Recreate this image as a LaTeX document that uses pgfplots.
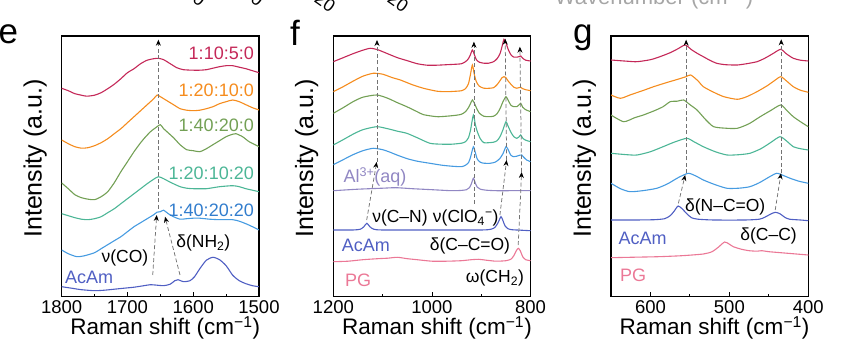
\documentclass[border=0pt]{standalone}
\usepackage{pgfplots}
\pgfplotsset{compat=1.18}
\usepackage{fontspec}
\setmainfont{Liberation Sans}
\usetikzlibrary{arrows.meta}
\definecolor{cR}{RGB}{196,40,88}
\definecolor{cO}{RGB}{245,140,30}
\definecolor{cG}{RGB}{115,160,85}
\definecolor{cT}{RGB}{76,182,150}
\definecolor{cB}{RGB}{70,155,225}
\definecolor{cBl}{RGB}{50,125,205}
\definecolor{cA}{RGB}{80,95,195}
\definecolor{cL}{RGB}{145,135,195}
\definecolor{cP}{RGB}{235,120,150}
\tikzset{
  darr/.style={dash pattern=on 4pt off 2.5pt, line width=0.75pt, black!55, -{Stealth[length=6pt,width=5pt,color=black,fill=black]}},
  lab/.style={inner sep=0pt, font=\fontsize{18}{20}\selectfont},
  slab/.style={inner sep=0pt, font=\fontsize{17.5}{20}\selectfont, black},
}
\pgfplotsset{
  panel/.style={scale only axis, width=197.3pt, height=260.7pt, anchor=south west,
    ymin=0, ymax=260.7, ytick=\empty, x dir=reverse,
    tick align=inside, xtick pos=bottom, major tick length=5pt, minor tick length=3pt,
    axis line style={line width=1.1pt}, every tick/.style={black, line width=0.9pt},
    clip mode=individual,
    tick label style={font=\fontsize{18.5}{20}\selectfont},
    /pgf/number format/assume math mode=true, /pgf/number format/1000 sep={},
    xlabel={Raman shift (cm\textsuperscript{−1})}, ylabel={Intensity (a.u.)},
    xlabel style={font=\fontsize{22.5}{24}\selectfont, at={(axis description cs:0.525,0)}, anchor=base, yshift=-38.3pt},
    ylabel style={font=\fontsize{25}{27}\selectfont, at={(axis description cs:-0.135,0.53)}, anchor=center},
    every axis plot/.append style={line width=1.1pt, smooth, tension=0.4},
  }
}
\begin{document}
\begin{tikzpicture}
\useasboundingbox (0,0) rectangle (851pt,355pt);
% cut-off fragments of the panel above
\begin{scope}[font=\fontsize{18}{20}\selectfont]
\node[rotate=-35, anchor=base east, inner sep=0pt] at (123pt,353pt) {0};
\node[rotate=-35, anchor=base east, inner sep=0pt] at (200pt,348pt) {:0};
\node[rotate=-35, anchor=base east, inner sep=0pt] at (258pt,348pt) {:0};
\node[rotate=-35, anchor=base east, inner sep=0pt] at (330pt,342pt) {:20};
\node[rotate=-35, anchor=base east, inner sep=0pt] at (403pt,342pt) {:20};
\end{scope}
\node[anchor=base, inner sep=0pt, black!35, font=\fontsize{22}{24}\selectfont] at (654pt,350pt) {Wavenumber (cm\textsuperscript{−1})};
% panel letters
\node[anchor=base west, inner sep=0pt, font=\fontsize{35}{35}\selectfont] at (-1.5pt,311.5pt) {e};
\node[anchor=base west, inner sep=0pt, font=\fontsize{35}{35}\selectfont] at (290pt,309pt) {f};
\node[anchor=base west, inner sep=0pt, font=\fontsize{35}{35}\selectfont] at (573pt,311.5pt) {g};

% ================= panel e =================
\begin{axis}[panel, at={(61.7pt,58.3pt)}, xmin=1500, xmax=1800,
  xtick={1500,1600,1700,1800}, minor xtick={1550,1650,1750}]
\addplot[cR] coordinates {(1800,208.4)(1790,206)(1780,203)(1770,201.5)(1762,200.5)(1750,201.5)(1740,204)(1730,208)(1720,212.5)(1710,218)(1700,224)(1690,228)(1680,233)(1670,236.5)(1660,238)(1653,238.4)(1645,237)(1635,233)(1625,229)(1615,227)(1600,226.5)(1590,226.5)(1580,227)(1570,228.5)(1560,230)(1550,231)(1540,231)(1530,229.5)(1520,228)(1510,226)(1500,224)};
\addplot[cO] coordinates {(1800,156.7)(1790,153)(1780,150)(1770,148.5)(1760,149)(1750,151)(1740,154)(1730,158)(1720,163)(1710,168)(1700,174)(1690,180)(1680,186)(1670,192)(1660,198)(1655,201.7)(1650,200)(1640,196)(1630,192)(1620,188)(1610,186.5)(1600,186)(1590,186.5)(1580,188)(1570,190)(1560,193)(1550,195)(1540,196.7)(1530,195)(1520,192)(1510,189)(1500,186.7)};
\addplot[cG] coordinates {(1800,113.7)(1790,108)(1780,102)(1770,99)(1760,97.5)(1750,97)(1740,100)(1730,105)(1720,114)(1710,125)(1700,135)(1690,145)(1680,154)(1675,158)(1665,165)(1655,170)(1650,172)(1645,168)(1640,165)(1630,159)(1620,152)(1610,147)(1600,146)(1590,145)(1580,148)(1570,152)(1560,156)(1550,160)(1540,162.5)(1535,163)(1525,160)(1515,155)(1500,150)};
\addplot[cT] coordinates {(1800,83)(1790,81)(1780,79)(1770,77.5)(1760,77)(1750,78)(1740,80)(1730,84)(1720,88)(1710,93)(1700,98)(1690,103)(1680,108)(1670,113)(1660,117.5)(1653,120)(1645,118)(1635,114.5)(1620,110)(1610,108.5)(1600,108)(1580,108)(1560,110)(1540,111)(1530,110)(1520,108)(1510,106.5)(1500,105)};
\addplot[cB] coordinates {(1800,46.7)(1790,43)(1777,40)(1765,41)(1750,44)(1740,48)(1730,52)(1720,56)(1710,60)(1700,65)(1690,70)(1680,74)(1670,78)(1660,82)(1655,84.5)(1650,85)(1645,86.5)(1638,83)(1630,80)(1620,77.5)(1610,78)(1600,78.5)(1590,78.5)(1575,77.5)(1560,77)(1540,77)(1530,75.5)(1520,73)(1510,70)(1500,66.7)};
\addplot[cA] coordinates {(1800,10)(1785,8.5)(1770,7)(1750,6)(1735,6.5)(1720,7.5)(1705,8.5)(1690,9.5)(1675,11)(1665,12)(1655,11.5)(1645,11)(1635,12.5)(1628,16)(1623,17)(1615,15)(1605,16)(1598,20)(1590,28)(1580,36.5)(1570,39.4)(1560,37)(1550,31)(1540,21.5)(1530,16)(1520,13)(1510,11)(1500,10)};
\draw[darr] (axis cs:1653,88) -- (axis cs:1653,257);
\draw[darr] (axis cs:1661.6,21.7) -- (axis cs:1655.6,81.7);
\draw[darr] (axis cs:1620.1,21.7) -- (axis cs:1642.9,80);
\node[lab, cR, anchor=east] at (axis cs:1507.6,243.4) {1:10:5:0};
\node[lab, cO, anchor=east] at (axis cs:1507.6,206.7) {1:20:10:0};
\node[lab, cG, anchor=east] at (axis cs:1507.6,171.5) {1:40:20:0};
\node[lab, cT, anchor=east] at (axis cs:1507.6,123.7) {1:20:10:20};
\node[lab, cBl, anchor=east] at (axis cs:1507.6,86.4) {1:40:20:20};
\node[slab] at (axis cs:1584.7,53.4) {δ(NH\textsubscript{2})};
\node[slab] at (axis cs:1703.8,38.4) {ν(CO)};
\node[lab, cA, anchor=west] at (axis cs:1795,19.2) {AcAm};
\end{axis}

% ================= panel f =================
\begin{axis}[panel, at={(333.3pt,58.3pt)}, xmin=800, xmax=1200,
  xtick={800,1000,1200}, minor xtick={900,1100}]
\addplot[cR] coordinates {(1200,235)(1180,239)(1160,243)(1140,246.5)(1125,248.4)(1110,247)(1090,243)(1070,239)(1050,236)(1030,233)(1010,231.5)(990,231.5)(970,232)(950,232.5)(940,233)(932,235)(926,238)(922,242)(918,246.7)(914,242)(910,237)(904,234.5)(895,233.5)(885,233.5)(875,235)(868,238)(862,243)(858,250)(854,257.4)(850,254)(846,248)(840,242)(834,239.5)(828,239.5)(824,240)(820,240.7)(816,238.5)(810,236.5)(800,235.7)};
\addplot[cO] coordinates {(1200,205)(1180,210)(1160,215.5)(1140,220.5)(1119,223.4)(1100,222.5)(1080,219)(1064,216.7)(1040,212)(1017,208.4)(990,205.5)(970,205)(950,205.5)(940,206)(932,208)(926,213)(922,222)(918,231.7)(914,222)(910,215)(904,210.5)(895,208.5)(885,208.4)(875,209)(868,212)(862,216)(858,219)(854,220)(850,219)(846,216)(840,212.5)(834,209.5)(828,208.5)(824,209)(820,209.4)(816,208)(810,207)(800,206)};
\addplot[cG] coordinates {(1200,183.4)(1180,189)(1160,195)(1140,199.5)(1112,201.7)(1090,198.5)(1070,194)(1051,190)(1030,185)(1017,182)(990,180)(970,180.5)(950,181.5)(940,182.5)(932,185)(926,189)(922,193)(918,196.7)(914,193.5)(910,189)(904,183.5)(895,180.5)(885,180)(875,180.5)(868,183)(862,188)(856,195)(850,200)(846,197)(840,191.5)(834,190)(828,190)(824,191.5)(820,193.4)(816,189.5)(810,187)(800,185)};
\addplot[cT] coordinates {(1200,151.7)(1180,157)(1160,162.5)(1140,167)(1112,170)(1090,168)(1070,165.5)(1051,163.4)(1030,159)(1004,153.4)(980,152.5)(960,152.5)(940,153.5)(932,155)(926,159)(922,166)(916,181.7)(912,172)(908,165)(902,158)(895,154)(885,154)(875,154.5)(868,156)(862,160)(856,167)(850,175)(846,171)(840,164.5)(834,160)(828,158.4)(824,159.5)(820,161.7)(816,158.5)(810,156.5)(800,155)};
\addplot[cB] coordinates {(1200,132)(1180,137)(1160,142)(1140,146)(1119,148.4)(1100,147)(1085,144.5)(1071,141.7)(1050,138)(1030,135.5)(1004,133.4)(980,131.5)(960,130.5)(940,130)(932,131.5)(926,134)(922,139)(916,150)(912,144)(908,137.5)(902,134.5)(895,133.5)(882,133.4)(872,134.5)(866,136.5)(862,138.4)(856,143)(850,150)(846,147.5)(840,141.5)(834,140)(828,140.5)(822,141.5)(818,141.7)(814,139.5)(808,136.7)(800,135)};
\addplot[cL] coordinates {(1200,106)(1150,107.5)(1100,108.5)(1073,109)(1040,108)(1000,107)(960,106)(940,106.3)(930,107)(924,109)(920,113)(916,118.5)(912,113.5)(908,109.5)(902,107.5)(890,106.5)(870,106)(840,106)(800,106)};
\addplot[cA] coordinates {(1200,66.7)(1160,66.7)(1145,67.5)(1138,70)(1132,73.4)(1126,70)(1118,67.5)(1100,66.7)(1000,66.7)(900,66.7)(880,67.5)(872,69.5)(866,74)(860,80)(856,76)(852,71)(846,68)(838,67)(820,66.5)(800,66)};
\addplot[cP] coordinates {(1200,35)(1170,35.5)(1140,37)(1110,38)(1090,38.5)(1070,39.4)(1050,38)(1030,37)(1000,35.5)(970,35.5)(940,36)(920,37)(905,37.4)(890,36.5)(870,35.5)(850,36)(840,37.5)(834,41)(829,46)(825,48.4)(821,46)(816,40)(810,37)(800,36)};
\draw[darr] (axis cs:1132.3,76.7) -- (axis cs:1112,134.7);
\draw[darr] (axis cs:1111.4,134.7) -- (axis cs:1111.4,256.7);
\draw[darr] (axis cs:914.9,93) -- (axis cs:914.9,255);
\draw[darr] (axis cs:862.2,81.7) -- (axis cs:848.6,136.7);
\draw[darr] (axis cs:848.6,136.7) -- (axis cs:851.5,258);
\draw[darr] (axis cs:825.1,51.7) -- (axis cs:818.2,124.7);
\draw[darr] (axis cs:818.2,124.7) -- (axis cs:821.7,250);
\node[lab, cL, anchor=west] at (axis cs:1179.7,120) {Al\textsuperscript{3+}(aq)};
\node[slab] at (axis cs:1064.8,78.4) {ν(C–N)};
\node[slab] at (axis cs:931.5,78.4) {ν(ClO\textsubscript{4}\textsuperscript{−})};
\node[lab, cA, anchor=west] at (axis cs:1183,50.9) {AcAm};
\node[slab] at (axis cs:923,50.9) {δ(C–C=O)};
\node[lab, cP, anchor=west] at (axis cs:1176.3,16.7) {PG};
\node[slab] at (axis cs:872.3,18.4) {ω(CH\textsubscript{2})};
\end{axis}

% ================= panel g =================
\begin{axis}[panel, at={(611pt,58.3pt)}, xmin=400, xmax=650,
  xtick={400,500,600}, minor xtick={450,550}]
\addplot[cR] coordinates {(650,236.7)(630,235.5)(617,235)(600,237)(588,240)(575,244)(565,248)(556,251.7)(548,247)(540,243)(533,240)(525,236.5)(516,233.4)(505,232)(490,231.7)(478,233)(465,235)(455,238.5)(445,243)(435,247.4)(428,243)(419,238.4)(410,236.5)(400,235.7)};
\addplot[cO] coordinates {(650,201.7)(638,198.4)(625,202)(610,206)(596,210)(580,214)(565,217.5)(555,220)(549,221.7)(540,216)(533,210)(520,204.5)(507,200)(490,197.4)(478,200)(465,205)(452,211)(443,216)(435,220)(428,216)(419,210)(410,206.5)(400,204.4)};
\addplot[cG] coordinates {(650,181.7)(634,175)(620,179)(609,181.7)(595,186)(584,190)(575,195)(566,195.5)(558,196.7)(550,192)(541,186.7)(530,177)(520,170)(505,168.5)(490,168.4)(475,173)(461,180)(448,186)(435,191.7)(427,186)(419,180)(410,175)(400,170)};
\addplot[cT] coordinates {(650,143.4)(630,142)(617,141.7)(600,145)(584,150)(570,154.5)(554,158.4)(545,155)(533,150)(518,145)(503,141.7)(488,142)(474,143.4)(460,148)(448,154)(436,160)(428,156)(419,150)(410,148)(400,146.7)};
\addplot[cB] coordinates {(650,113.4)(638,108)(626,105)(610,106)(592,108.4)(578,113)(565,119)(552,123.4)(542,120.5)(533,116.7)(518,112)(503,108.4)(488,108.5)(474,110)(462,114)(450,119.5)(440,123.4)(431,121)(423,118.4)(412,115.5)(400,113.4)};
\addplot[cA] coordinates {(650,76.7)(620,76.7)(595,77)(582,78)(575,81)(570,85.5)(565,90.7)(560,88)(554,83)(548,79)(540,77.5)(520,76.7)(480,76.7)(462,77.5)(455,79.5)(448,82.5)(442,84.4)(436,83)(430,79.5)(424,77.5)(410,76.7)(400,76)};
\addplot[cP] coordinates {(650,39)(620,39.5)(590,40)(560,41)(533,42.7)(522,45)(514,49.5)(506,54.7)(500,52.5)(495,50)(485,47.5)(475,46)(465,45.5)(459,46)(450,45)(435,44)(420,43)(400,41.7)};
\draw[darr] (axis cs:564.6,93.4) -- (axis cs:556,121.7);
\draw[darr] (axis cs:554.8,123.4) -- (axis cs:554.8,257);
\draw[darr] (axis cs:441.9,86.7) -- (axis cs:434.6,123.4);
\draw[darr] (axis cs:434.3,123.4) -- (axis cs:434.3,257.4);
\node[slab] at (axis cs:505.3,90) {δ(N–C=O)};
\node[slab] at (axis cs:450.4,60.9) {δ(C–C)};
\node[lab, cA, anchor=west] at (axis cs:640.7,58.4) {AcAm};
\node[lab, cP, anchor=west] at (axis cs:638.6,21.7) {PG};
\end{axis}
\end{tikzpicture}
\end{document}
